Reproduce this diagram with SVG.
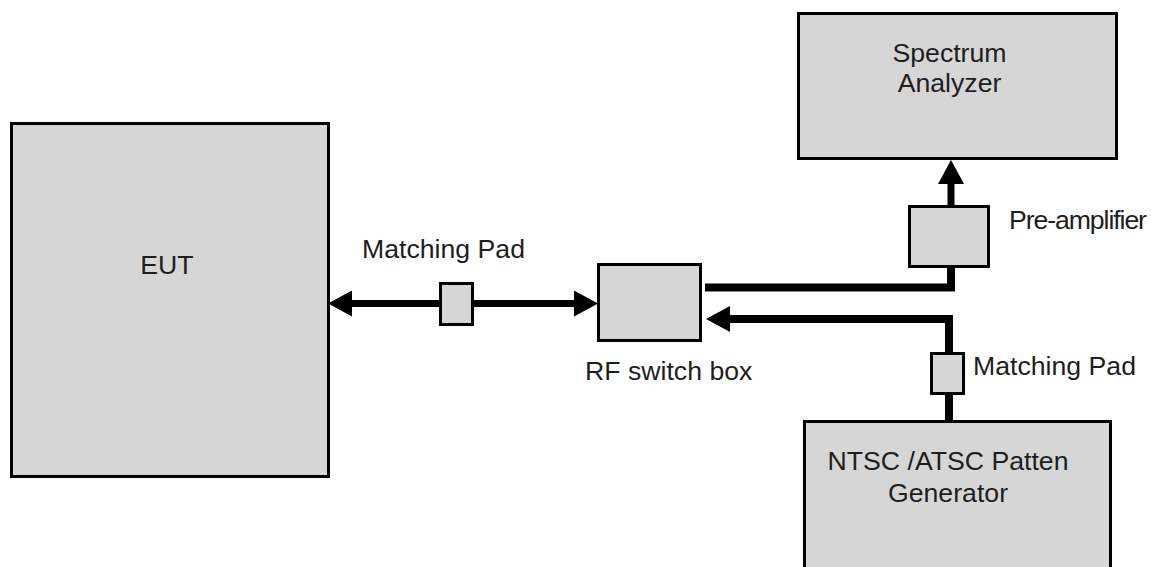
<svg xmlns="http://www.w3.org/2000/svg" width="1151" height="567" viewBox="0 0 1151 567">
  <style>
    .box { fill: #d6d6d6; stroke: #000; stroke-width: 3; }
    .lbl { font-family: "Liberation Sans", Arial, sans-serif; font-size: 26.67px; fill: #1e1e1e; }
    .mid { text-anchor: middle; }
    .wire { fill: none; stroke: #000; stroke-width: 8; stroke-linejoin: miter; stroke-linecap: butt; }
    .thin { stroke-width: 7; }
  </style>
  <defs>
    <marker id="arrow" markerUnits="userSpaceOnUse" markerWidth="24" markerHeight="26" viewBox="0 0 24 26" refX="4" refY="13" orient="auto-start-reverse">
      <path d="M0,0 L24,13 L0,26 Z" fill="#000"/>
    </marker>
  </defs>

  <!-- signal paths -->
  <g id="connectors">
    <path class="wire thin" d="M348,303.5 H578" marker-start="url(#arrow)" marker-end="url(#arrow)"/>
    <path class="wire" d="M705,287.5 H951 V267"/>
    <path class="wire thin" d="M951,207 V180" marker-end="url(#arrow)"/>
    <path class="wire" d="M949,421 V319 H726" marker-end="url(#arrow)"/>
  </g>

  <g id="eut">
    <rect class="box" x="11.5" y="123.5" width="317" height="353"/>
    <text class="lbl mid" x="167" y="274">EUT</text>
  </g>

  <g id="pad-left">
    <rect class="box" x="440.5" y="283.5" width="32" height="41"/>
    <text class="lbl" x="362" y="258">Matching Pad</text>
  </g>

  <g id="rf-switch">
    <rect class="box" x="598.5" y="264.5" width="102" height="76"/>
    <text class="lbl" x="585" y="380">RF switch box</text>
  </g>

  <g id="spectrum-analyzer">
    <rect class="box" x="798.5" y="13.5" width="318" height="145"/>
    <text class="lbl mid" x="949.5" y="62">Spectrum</text>
    <text class="lbl mid" x="949.5" y="92">Analyzer</text>
  </g>

  <g id="pre-amplifier">
    <rect class="box" x="909.5" y="206.5" width="79" height="60"/>
    <text class="lbl" x="1009" y="229" textLength="138">Pre-amplifier</text>
  </g>

  <g id="pad-right">
    <rect class="box" x="931.5" y="353.5" width="32" height="40"/>
    <text class="lbl" x="973" y="375">Matching Pad</text>
  </g>

  <g id="pattern-generator">
    <rect class="box" x="804.5" y="421.5" width="306" height="170"/>
    <text class="lbl mid" x="948" y="470">NTSC /ATSC Patten</text>
    <text class="lbl mid" x="948" y="502">Generator</text>
  </g>
</svg>
